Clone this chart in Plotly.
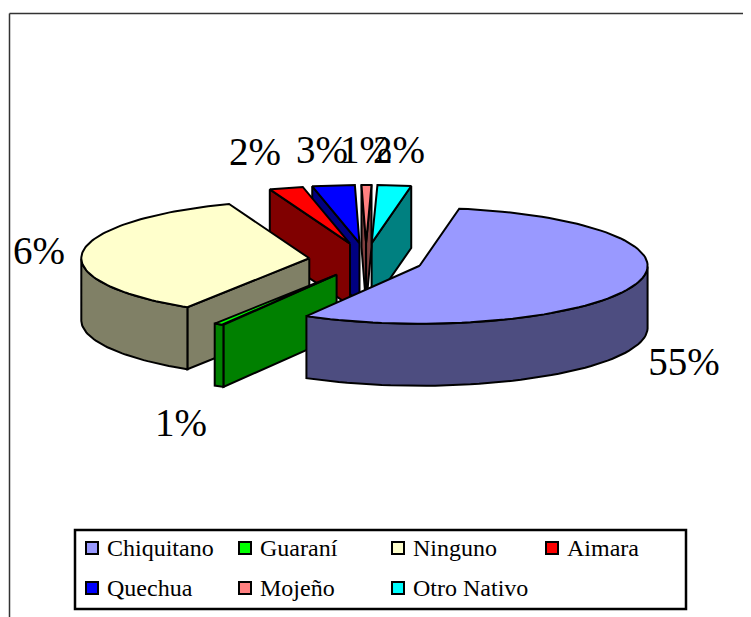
import numpy as np
import plotly.graph_objects as go

categories = ["Chiquitano", "Guaraní", "Ninguno", "Aimara", "Quechua", "Mojeño", "Otro Nativo"]
values = [55.49, 0.71, 35.3, 2.4, 3, 0.7, 2.4]
pct_labels = ["55%", "1%", "6%", "2%", "3%", "1%", "2%"]
top_colors = ["#9999FF", "#00FF00", "#FFFFCC", "#FF0000", "#0000FF", "#FF8080", "#00FFFF"]
side_colors = ["#4D4D80", "#008000", "#808066", "#800000", "#000080", "#804040", "#008080"]
label_x = [684, 181, 39, 255, 322, 366, 399]
label_y = [365, 426, 254, 155, 153, 153, 153]
legend_col_x = [92, 245, 398, 552, 92, 245, 398]
legend_row_y = [548, 548, 548, 548, 588, 588, 588]

START, CX, CY, RX, RY, DX, DY, H = 10.0, 366.0, 260.0, 228.0, 58.0, 57.0, 17.0, 62.0
LW = 2
FONT = "Liberation Serif"
PAGE_MARGIN = 8  # the page body offsets the figure by this many pixels

fig = go.Figure()


def poly(xs, ys, color):
    fig.add_trace(go.Scatter(x=list(xs), y=list(ys), mode="lines", fill="toself", fillcolor=color,
                             line=dict(color="black", width=LW, shape="linear"),
                             hoverinfo="skip", showlegend=False))


angles = np.cumsum([0] + values) * 3.6 + START
# painter's order: rear slices first, the big front slice last
for i in [6, 5, 4, 3, 2, 1, 0]:
    t0, t1 = np.radians(angles[i]), np.radians(angles[i + 1])
    mid = (t0 + t1) / 2
    ax = CX + DX * np.sin(mid)
    ay = CY - DY * np.cos(mid)
    t = np.linspace(t0, t1, 90)
    ox = ax + RX * np.sin(t)
    oy = ay - RY * np.cos(t)

    # radial walls, only those that face the viewer
    if np.sin(t0) < 0:
        poly([ax, ox[0], ox[0], ax, ax], [ay, oy[0], oy[0] + H, ay + H, ay], side_colors[i])
    if np.sin(t1) > 0:
        poly([ax, ox[-1], ox[-1], ax, ax], [ay, oy[-1], oy[-1] + H, ay + H, ay], side_colors[i])

    # outer rim, front-facing part only
    front = np.cos(t) <= 0
    if front.any():
        fx, fy = ox[front], oy[front]
        poly(np.r_[fx, fx[::-1], fx[0]], np.r_[fy, fy[::-1] + H, fy[0]], side_colors[i])

    # top face
    poly(np.r_[ax, ox, ax], np.r_[ay, oy, ay], top_colors[i])

# percentage labels
fig.add_trace(go.Scatter(x=label_x, y=label_y, mode="text", text=pct_labels,
                         textposition="middle center", hoverinfo="skip", showlegend=False,
                         textfont=dict(family=FONT, size=39, color="black")))

# legend keys and names
fig.add_trace(go.Scatter(x=legend_col_x, y=legend_row_y, mode="markers", hoverinfo="skip", showlegend=False,
                         marker=dict(symbol="square", size=12, color=top_colors,
                                     line=dict(color="black", width=2))))
fig.add_trace(go.Scatter(x=[v + 15 for v in legend_col_x], y=[v + 2 for v in legend_row_y], mode="text",
                         text=categories, textposition="middle right", hoverinfo="skip", showlegend=False,
                         textfont=dict(family=FONT, size=24, color="black")))

fig.update_layout(
    width=751 - PAGE_MARGIN, height=617 - PAGE_MARGIN, margin=dict(l=0, r=0, t=0, b=0),
    paper_bgcolor="white", plot_bgcolor="white",
    xaxis=dict(range=[PAGE_MARGIN, 751], visible=False, fixedrange=True),
    yaxis=dict(range=[617, PAGE_MARGIN], visible=False, fixedrange=True),
    shapes=[
        dict(type="line", xref="x", yref="y", x0=9.5, x1=751, y0=13.5, y1=13.5, line=dict(color="#333333", width=1.5)),
        dict(type="line", xref="x", yref="y", x0=9.5, x1=9.5, y0=13.5, y1=617, line=dict(color="#333333", width=1.5)),
        dict(type="rect", xref="x", yref="y", x0=75, x1=686, y0=530, y1=609, line=dict(color="black", width=2.5),
             layer="below"),
    ],
)
fig.write_html("out.html")
